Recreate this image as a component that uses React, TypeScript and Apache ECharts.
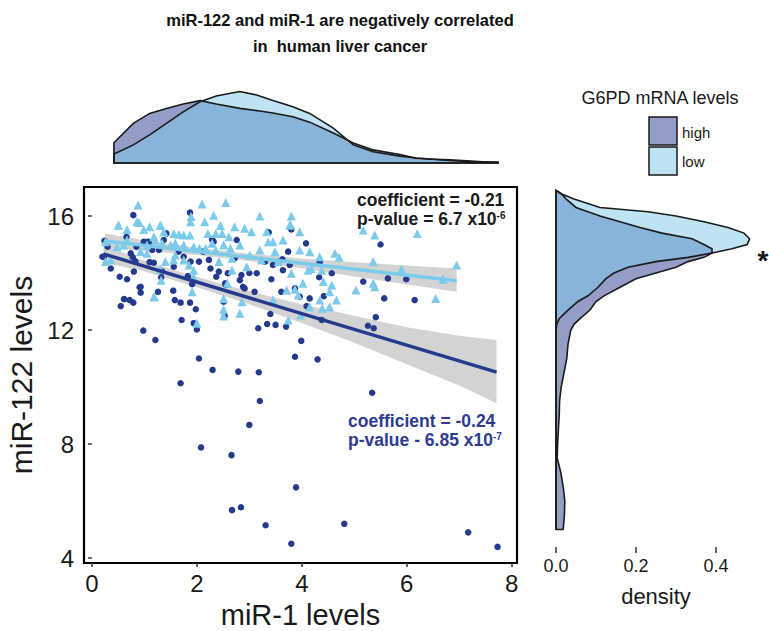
import React, { useEffect, useRef } from "react";
import * as echarts from "echarts";

// ---------------- data ----------------
const highPoints: [number, number][] = [
  [0.79,16.03],[1.87,16.12],[0.66,15.27],[0.24,15.13],[0.30,14.92],[0.23,14.57],[0.36,14.16],[0.53,13.87],[0.67,13.78],[0.74,14.69],
  [0.78,14.55],[0.83,14.40],[0.80,14.05],[0.85,14.92],[0.99,15.10],[1.09,15.04],[1.15,14.81],[1.10,14.38],[1.18,14.36],[0.93,13.52],
  [0.93,13.31],[0.55,12.84],[0.62,13.08],[0.72,13.05],[0.79,12.96],[0.98,11.98],[1.21,11.65],[1.32,13.85],[1.34,14.05],[1.26,13.34],
  [1.28,14.81],[1.37,15.16],[1.42,15.39],[1.56,14.22],[1.55,13.38],[1.58,13.05],[1.69,12.96],[1.71,12.35],[1.87,12.96],[1.83,13.89],
  [1.91,13.61],[1.98,12.73],[1.94,12.24],[2.00,12.02],[1.75,14.57],[1.65,14.75],[1.88,14.40],[2.04,14.40],[2.12,14.75],[2.23,14.46],
  [2.26,14.16],[2.32,15.10],[2.29,15.18],[2.37,13.87],[2.42,14.05],[2.54,13.64],[2.55,13.58],[2.59,13.99],[2.51,12.99],[2.53,12.49],
  [2.76,15.16],[2.72,14.52],[2.82,13.75],[2.88,13.52],[2.91,13.46],[3.10,13.34],[2.85,13.93],[3.00,14.00],[3.14,13.99],[3.30,14.40],
  [3.45,14.28],[3.42,13.78],[3.63,14.48],[3.64,14.10],[3.77,14.28],[3.80,15.53],[3.37,15.43],[4.08,15.04],[3.74,14.75],[3.87,13.46],
  [3.61,13.34],[3.96,13.17],[4.15,13.11],[4.42,13.19],[4.33,13.85],[4.57,13.99],[4.34,14.38],[4.09,12.84],[4.38,12.35],[3.40,12.56],
  [3.17,12.06],[3.34,12.21],[3.50,12.18],[3.70,12.12],[3.99,11.62],[3.87,11.06],[4.30,10.97],[2.04,11.00],[2.30,10.60],[2.79,10.54],
  [3.18,10.52],[5.17,13.70],[5.41,12.45],[5.26,12.15],[5.37,12.06],[5.50,15.00],[5.64,13.81],[5.99,13.78],[5.57,13.11],[6.15,13.05],
  [1.69,10.13],[3.20,9.51],[3.00,8.67],[5.34,9.80],[2.08,7.88],[2.66,7.61],[3.89,6.48],[2.67,5.68],[2.84,5.78],[3.31,5.15],
  [4.81,5.20],[3.80,4.50],[7.17,4.90],[7.73,4.39],[0.61,13.09],[0.91,13.50],[1.07,15.10],[0.20,14.57],
];

const lowPoints: [number, number][] = [
  [0.88,16.39],[2.10,16.42],[2.55,16.47],[0.51,15.68],[0.67,15.53],[0.86,15.80],[0.99,15.53],[1.10,15.62],[1.31,15.68],[1.37,15.45],
  [1.18,15.27],[1.56,15.39],[1.66,15.36],[1.75,15.33],[1.88,15.80],[1.89,15.98],[1.87,15.33],[2.15,15.80],[2.32,16.03],[2.45,15.67],
  [2.21,15.39],[2.36,15.39],[2.48,15.39],[2.61,15.27],[0.26,15.10],[0.26,14.40],[0.36,14.46],[0.48,14.92],[0.61,14.98],[0.67,15.16],
  [1.05,14.98],[1.21,15.16],[1.34,15.04],[1.50,14.98],[1.59,15.04],[1.75,14.98],[1.94,14.92],[2.05,14.87],[2.17,14.87],[2.29,15.04],
  [2.36,14.81],[2.51,14.98],[2.64,14.87],[0.93,14.75],[1.05,14.69],[1.40,14.40],[1.56,14.46],[1.59,14.63],[1.75,14.46],[1.85,14.28],
  [1.94,14.10],[1.94,13.85],[1.32,13.75],[1.18,13.17],[1.91,13.34],[2.00,12.24],[2.51,13.11],[2.51,12.73],[2.58,13.64],[1.30,14.13],
  [2.42,14.40],[2.67,14.52],[2.67,14.10],[3.20,16.00],[3.80,16.00],[2.72,15.62],[2.91,15.57],[3.04,15.45],[3.33,15.45],[3.77,15.68],
  [3.78,15.71],[3.96,15.45],[3.45,15.10],[3.64,15.16],[3.36,15.10],[3.20,14.81],[3.49,14.75],[3.96,14.81],[4.15,14.75],[4.34,14.57],
  [4.63,14.69],[4.71,14.55],[2.82,14.98],[3.01,14.63],[3.23,14.46],[3.55,14.40],[4.12,14.10],[4.38,14.10],[4.18,14.16],[3.80,13.99],
  [4.02,13.64],[4.41,13.70],[4.57,13.58],[4.53,13.34],[4.34,13.05],[4.66,13.05],[5.03,13.40],[5.36,13.64],[5.17,15.51],[5.39,15.33],
  [5.36,14.40],[3.71,13.40],[3.93,13.23],[3.87,13.43],[2.82,12.59],[2.86,12.99],[2.51,12.49],[3.45,13.05],[3.74,12.35],[4.15,12.82],
  [3.98,12.53],[4.39,12.76],[4.53,12.82],[2.95,14.22],[6.20,15.39],[6.95,14.28],[5.90,14.13],[6.69,13.78],[6.55,13.11],[5.39,13.52],
  [1.19,13.17],[0.50,15.68],[1.30,15.68],[0.90,15.77],
];

// regression fits (endpoints) and 95% confidence bands [x, lower, upper]
const highFit: [number, number][] = [[0.22, 14.67], [7.71, 10.52]];
const lowFit: [number, number][] = [[0.25, 15.12], [6.95, 13.73]];
const highBand: [number, number, number][] = [
  [0.22, 14.38, 14.98], [1.0, 14.05, 14.43], [2.0, 13.5, 13.86], [3.0, 12.9, 13.36], [4.0, 12.25, 12.9],
  [5.0, 11.55, 12.5], [6.0, 10.8, 12.1], [7.0, 10.05, 11.8], [7.71, 9.43, 11.65],
];
const lowBand: [number, number, number][] = [
  [0.25, 14.87, 15.39], [1.0, 14.78, 15.15], [2.0, 14.63, 14.89], [3.0, 14.42, 14.68], [4.0, 14.17, 14.51],
  [5.0, 13.88, 14.38], [6.0, 13.6, 14.26], [6.95, 13.34, 14.16],
];

// top marginal density (miR-1)
const topDensX = [0.42, 0.79, 1.10, 1.42, 1.74, 2.06, 2.37, 2.82, 3.14, 3.45, 3.83, 4.15, 4.6, 4.98, 5.36, 5.87, 6.18, 6.5, 6.82, 7.14, 7.45, 7.74];
const topDensHigh = [0.065, 0.127, 0.159, 0.175, 0.189, 0.2, 0.189, 0.175, 0.168, 0.16, 0.148, 0.131, 0.096, 0.064, 0.042, 0.027, 0.015, 0.012, 0.01, 0.007, 0.004, 0.002];
const topDensLow = [0.029, 0.058, 0.09, 0.127, 0.164, 0.196, 0.215, 0.229, 0.218, 0.2, 0.18, 0.159, 0.112, 0.058, 0.036, 0.022, 0.016, 0.012, 0.008, 0.005, 0.003, 0.002];

// right marginal density (miR-122)
const sideDensY = [16.9, 16.8, 16.6, 16.3, 16.15, 16.0, 15.8, 15.6, 15.4, 15.2, 15.0, 14.85, 14.7, 14.55, 14.4, 14.2, 14.0, 13.8, 13.5, 13.2, 13.0, 12.7, 12.4, 12.2, 12.0, 11.5, 11.0, 10.5, 10.0, 9.5, 9.0, 8.5, 8.0, 7.5, 7.0, 6.5, 6.0, 5.5, 5.0];
const sideDensLow = [0, 0.01, 0.045, 0.11, 0.23, 0.3, 0.37, 0.43, 0.47, 0.484, 0.478, 0.44, 0.39, 0.33, 0.25, 0.18, 0.145, 0.125, 0.105, 0.08, 0.055, 0.03, 0.008, 0.002, 0, 0, 0, 0, 0, 0, 0, 0, 0, 0, 0, 0, 0, 0, 0];
const sideDensHigh = [0, 0.012, 0.025, 0.05, 0.08, 0.11, 0.16, 0.21, 0.265, 0.34, 0.37, 0.39, 0.39, 0.37, 0.33, 0.3, 0.25, 0.2, 0.16, 0.12, 0.1, 0.085, 0.06, 0.045, 0.037, 0.03, 0.027, 0.02, 0.013, 0.009, 0.008, 0.006, 0.004, 0.003, 0.012, 0.018, 0.022, 0.021, 0.018];

const xTicks = [0, 2, 4, 6, 8];
const yTicks = [4, 8, 12, 16];
const densityTicks = [0, 0.2, 0.4];

const titleLines = ["miR-122 and miR-1 are negatively correlated", "in  human liver cancer"];
const legendTitle = "G6PD mRNA levels";
const groupNames = ["high", "low"];

// ---------------- styles ----------------
const FONT = "'Liberation Sans', Arial, Helvetica, sans-serif";
const DARK = "#243a8c";
const LIGHT = "#7ccbeb";
const HIGH_FILL = "#939dc7";
const LOW_FILL = "#bee4f4";
const OVERLAP_FILL = "#88b4d9";
const BAND = "#d3d3d3";

function bandRenderer(band: [number, number, number][]) {
  return (params: any, api: any) => {
    if (params.dataIndex !== 0) return null;
    const upper = band.map((b) => api.coord([b[0], b[2]]));
    const lower = band.map((b) => api.coord([b[0], b[1]])).reverse();
    return { type: "polygon", shape: { points: upper.concat(lower) }, style: { fill: BAND } };
  };
}

function topDensityRenderer(params: any, api: any) {
  if (params.dataIndex !== 0) return null;
  const n = topDensX.length;
  const poly = (vals: number[]) => [
    api.coord([topDensX[0], 0]),
    ...topDensX.map((x, i) => api.coord([x, vals[i]])),
    api.coord([topDensX[n - 1], 0]),
  ];
  const minVals = topDensHigh.map((v, i) => Math.min(v, topDensLow[i]));
  return {
    type: "group",
    children: [
      { type: "polygon", shape: { points: poly(topDensHigh) }, style: { fill: HIGH_FILL } },
      { type: "polygon", shape: { points: poly(topDensLow) }, style: { fill: LOW_FILL } },
      { type: "polygon", shape: { points: poly(minVals) }, style: { fill: OVERLAP_FILL } },
      { type: "polygon", shape: { points: poly(topDensHigh) }, style: { fill: "none", stroke: "#1a1a1a", lineWidth: 1.6 } },
      { type: "polygon", shape: { points: poly(topDensLow) }, style: { fill: "none", stroke: "#1a1a1a", lineWidth: 1.6 } },
    ],
  };
}

function sideDensityRenderer(params: any, api: any) {
  if (params.dataIndex !== 0) return null;
  const n = sideDensY.length;
  const poly = (vals: number[]) => [
    api.coord([0, sideDensY[0]]),
    ...sideDensY.map((y, i) => api.coord([vals[i], y])),
    api.coord([0, sideDensY[n - 1]]),
  ];
  const minVals = sideDensHigh.map((v, i) => Math.min(v, sideDensLow[i]));
  return {
    type: "group",
    children: [
      { type: "polygon", shape: { points: poly(sideDensHigh) }, style: { fill: HIGH_FILL } },
      { type: "polygon", shape: { points: poly(sideDensLow) }, style: { fill: LOW_FILL } },
      { type: "polygon", shape: { points: poly(minVals) }, style: { fill: OVERLAP_FILL } },
      { type: "polygon", shape: { points: poly(sideDensHigh) }, style: { fill: "none", stroke: "#1a1a1a", lineWidth: 1.6 } },
      { type: "polygon", shape: { points: poly(sideDensLow) }, style: { fill: "none", stroke: "#1a1a1a", lineWidth: 1.6 } },
    ],
  };
}

export default function App() {
  const ref = useRef<HTMLDivElement>(null);

  useEffect(() => {
    if (!ref.current) return;
    const chart = echarts.init(ref.current, undefined, { renderer: "svg" });

    const tickStyle = { color: "#333", width: 1.5 };

    const option: any = {
      animation: false,
      backgroundColor: "#ffffff",
      textStyle: { fontFamily: FONT },
      grid: [
        { left: 84, top: 187, width: 433, height: 376, show: true, borderColor: "#000", borderWidth: 2.2, backgroundColor: "transparent", containLabel: false, outerBoundsMode: "none" },
        { left: 84, top: 85, width: 433, height: 78, containLabel: false, outerBoundsMode: "none" },
        { left: 556, top: 187, width: 200, height: 360, containLabel: false, outerBoundsMode: "none" },
      ],
      xAxis: [
        {
          type: "value", gridIndex: 0, min: -0.15, max: 8.1,
          axisLine: { show: false }, splitLine: { show: false },
          axisTick: { show: true, length: 4, lineStyle: tickStyle, customValues: xTicks },
          axisLabel: { fontSize: 24, color: "#1a1a1a", margin: 8, fontFamily: FONT, customValues: xTicks },
          name: "miR-1 levels", nameLocation: "middle", nameGap: 35,
          nameTextStyle: { fontSize: 29, color: "#1a1a1a", fontFamily: FONT, lineHeight: 30 },
        },
        { type: "value", gridIndex: 1, min: -0.15, max: 8.1, show: false },
        {
          type: "value", gridIndex: 2, min: 0, max: 0.5,
          axisLine: { show: false }, splitLine: { show: false },
          axisTick: { show: true, length: 6, lineStyle: tickStyle, customValues: densityTicks },
          axisLabel: { fontSize: 18, color: "#1a1a1a", margin: 10, fontFamily: FONT, customValues: densityTicks, formatter: (v: number) => v.toFixed(1) },
          name: "density", nameLocation: "middle", nameGap: 38,
          nameTextStyle: { fontSize: 22, color: "#1a1a1a", fontFamily: FONT },
        },
      ],
      yAxis: [
        {
          type: "value", gridIndex: 0, min: 3.825, max: 17.018,
          axisLine: { show: false }, splitLine: { show: false },
          axisTick: { show: true, length: 4, lineStyle: tickStyle, customValues: yTicks },
          axisLabel: { fontSize: 24, color: "#1a1a1a", margin: 10, fontFamily: FONT, customValues: yTicks },
          name: "miR-122 levels", nameLocation: "middle", nameGap: 42,
          nameTextStyle: { fontSize: 30, color: "#1a1a1a", fontFamily: FONT },
        },
        { type: "value", gridIndex: 1, min: 0, max: 0.25, show: false },
        { type: "value", gridIndex: 2, min: 4.386, max: 17.018, show: false },
      ],
      series: [
        { type: "custom", xAxisIndex: 0, yAxisIndex: 0, data: highBand, renderItem: bandRenderer(highBand), z: 1, silent: true },
        { type: "custom", xAxisIndex: 0, yAxisIndex: 0, data: lowBand, renderItem: bandRenderer(lowBand), z: 1, silent: true },
        { type: "scatter", name: "high", xAxisIndex: 0, yAxisIndex: 0, data: highPoints, symbol: "circle", symbolSize: 6.5, itemStyle: { color: DARK, opacity: 1 }, z: 2 },
        { type: "scatter", name: "low", xAxisIndex: 0, yAxisIndex: 0, data: lowPoints, symbol: "triangle", symbolSize: 9, itemStyle: { color: LIGHT, opacity: 1 }, z: 2 },
        { type: "line", xAxisIndex: 0, yAxisIndex: 0, data: highFit, showSymbol: false, lineStyle: { color: DARK, width: 3.5 }, z: 3 },
        { type: "line", xAxisIndex: 0, yAxisIndex: 0, data: lowFit, showSymbol: false, lineStyle: { color: LIGHT, width: 3.5 }, z: 3 },
        { type: "custom", xAxisIndex: 1, yAxisIndex: 1, data: topDensX.map((x, i) => [x, topDensHigh[i], topDensLow[i]]), renderItem: topDensityRenderer, silent: true },
        { type: "custom", xAxisIndex: 2, yAxisIndex: 2, data: sideDensY.map((y, i) => [sideDensHigh[i], y, sideDensLow[i]]), renderItem: sideDensityRenderer, silent: true },
      ],
      graphic: [
        { type: "text", x: 340, y: 20, style: { text: titleLines[0], fontSize: 16.5, fontWeight: "bold", fontFamily: FONT, fill: "#111", textAlign: "center", textVerticalAlign: "middle" } },
        { type: "text", x: 340, y: 46, style: { text: titleLines[1], fontSize: 16.5, fontWeight: "bold", fontFamily: FONT, fill: "#111", textAlign: "center", textVerticalAlign: "middle" } },
        { type: "text", x: 357, y: 200, z: 10, style: { text: "coefficient = -0.21", fontSize: 17.5, lineHeight: 17, fontWeight: "bold", fontFamily: FONT, fill: "#1a1a1a", textVerticalAlign: "middle" } },
        {
          type: "text", x: 357, y: 219, z: 10,
          style: {
            text: "{a|p-value = 6.7 x10}{s|-6}", fontFamily: FONT, fill: "#1a1a1a", textVerticalAlign: "middle",
            rich: {
              a: { fontSize: 17.5, fontWeight: "bold", fontFamily: FONT, fill: "#1a1a1a", lineHeight: 17 },
              s: { fontSize: 10, fontWeight: "bold", fontFamily: FONT, fill: "#1a1a1a", verticalAlign: "top", lineHeight: 10 },
            },
          },
        },
        { type: "text", x: 348, y: 421, z: 10, style: { text: "coefficient = -0.24", fontSize: 17.5, lineHeight: 17, fontWeight: "bold", fontFamily: FONT, fill: "#2e3b8f", textVerticalAlign: "middle" } },
        {
          type: "text", x: 348, y: 440, z: 10,
          style: {
            text: "{a|p-value - 6.85 x10}{s|-7}", fontFamily: FONT, fill: "#2e3b8f", textVerticalAlign: "middle",
            rich: {
              a: { fontSize: 17.5, fontWeight: "bold", fontFamily: FONT, fill: "#2e3b8f", lineHeight: 17 },
              s: { fontSize: 10, fontWeight: "bold", fontFamily: FONT, fill: "#2e3b8f", verticalAlign: "top", lineHeight: 10 },
            },
          },
        },
        // legend
        { type: "text", x: 660, y: 98, style: { text: legendTitle, fontSize: 18, fontFamily: FONT, fill: "#1a1a1a", textAlign: "center", textVerticalAlign: "middle" } },
        { type: "rect", shape: { x: 649, y: 117, width: 28, height: 28 }, style: { fill: HIGH_FILL, stroke: "#1a1a1a", lineWidth: 1.5 } },
        { type: "rect", shape: { x: 649, y: 147, width: 28, height: 28 }, style: { fill: LOW_FILL, stroke: "#1a1a1a", lineWidth: 1.5 } },
        { type: "text", x: 682, y: 132, style: { text: groupNames[0], fontSize: 15, fontFamily: FONT, fill: "#1a1a1a", textVerticalAlign: "middle" } },
        { type: "text", x: 682, y: 161, style: { text: groupNames[1], fontSize: 15, fontFamily: FONT, fill: "#1a1a1a", textVerticalAlign: "middle" } },
        // significance star
        { type: "text", x: 763, y: 260, style: { text: "*", fontSize: 28, fontWeight: "bold", fontFamily: FONT, fill: "#111", textAlign: "center", textVerticalAlign: "middle" } },
      ],
    };

    chart.setOption(option);
    return () => chart.dispose();
  }, []);

  return <div ref={ref} style={{ position: "fixed", left: 0, top: 0, width: 769, height: 631, background: "#fff" }} />;
}
